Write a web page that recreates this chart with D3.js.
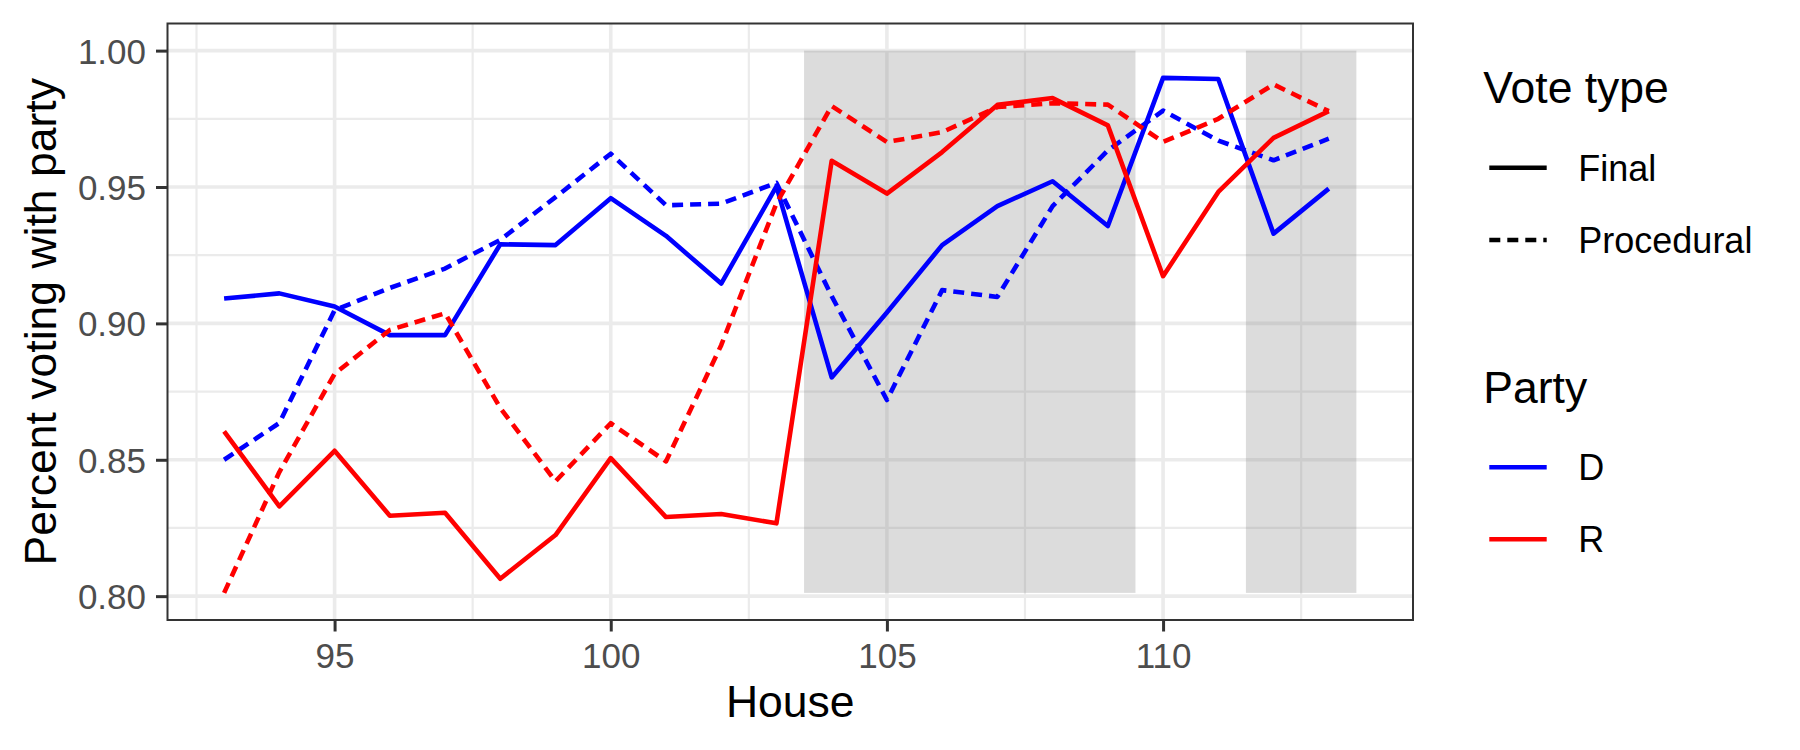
<!DOCTYPE html>
<html>
<head>
<meta charset="utf-8">
<script src="https://cdn.jsdelivr.net/npm/d3@7"></script>
<style>
  html, body { margin: 0; padding: 0; background: #fff; }
  svg { display: block; font-family: "Liberation Sans", Arial, sans-serif; }
</style>
</head>
<body>
<svg id="chart" width="1800" height="750"></svg>
<script>
// ---- data ----
const houses = [93, 94, 95, 96, 97, 98, 99, 100, 101, 102, 103, 104, 105, 106, 107, 108, 109, 110, 111, 112, 113];
const dFinal = [0.9091, 0.9110, 0.9062, 0.8957, 0.8957, 0.9290, 0.9287, 0.9459, 0.9321, 0.9146, 0.9502, 0.8802, 0.9040, 0.9287, 0.9430, 0.9521, 0.9357, 0.9900, 0.9896, 0.9329, 0.9494];
const dProcedural = [0.8500, 0.8635, 0.9048, 0.9130, 0.9201, 0.9306, 0.9463, 0.9622, 0.9433, 0.9439, 0.9515, 0.9100, 0.8719, 0.9122, 0.9097, 0.9430, 0.9634, 0.9780, 0.9670, 0.9598, 0.9677];
const rFinal = [0.8604, 0.8329, 0.8533, 0.8295, 0.8306, 0.8064, 0.8224, 0.8506, 0.8290, 0.8301, 0.8267, 0.9596, 0.9476, 0.9628, 0.9801, 0.9826, 0.9726, 0.9173, 0.9482, 0.9680, 0.9778];
const rProcedural = [0.8012, 0.8455, 0.8815, 0.8976, 0.9037, 0.8690, 0.8421, 0.8634, 0.8494, 0.8920, 0.9440, 0.9797, 0.9665, 0.9701, 0.9793, 0.9807, 0.9802, 0.9665, 0.9750, 0.9876, 0.9778];

const shadeStart = [103.5, 111.5];
const shadeEnd = [109.5, 113.5];
const shadeTop = 1.0;

const xTicks = [95, 100, 105, 110];
const xMinorTicks = [92.5, 97.5, 102.5, 107.5, 112.5];
const yTicks = [0.80, 0.85, 0.90, 0.95, 1.00];
const yMinorTicks = [0.825, 0.875, 0.925, 0.975];

const voteTypes = ["Final", "Procedural"];
const parties = ["D", "R"];
const partyColors = ["blue", "red"];

const seriesList = [
  { party: "D", type: "Final", values: dFinal },
  { party: "D", type: "Procedural", values: dProcedural },
  { party: "R", type: "Final", values: rFinal },
  { party: "R", type: "Procedural", values: rProcedural }
];

// ---- layout ----
const panel = { left: 167.5, right: 1413, top: 23.5, bottom: 620 };
const DASH = "11 7";
const LINE_W = 4.6;

const svg = d3.select("#chart");

const allVals = [].concat(dFinal, dProcedural, rFinal, rProcedural);
const yLo = d3.min(allVals), yHi = shadeTop;
const yPad = (yHi - yLo) * 0.05;
const xLo = d3.min(houses), xHi = d3.max(shadeEnd);
const xPad = (xHi - xLo) * 0.05;

const x = d3.scaleLinear().domain([xLo - xPad, xHi + xPad]).range([panel.left, panel.right]);
const y = d3.scaleLinear().domain([yLo - yPad, yHi + yPad]).range([panel.bottom, panel.top]);

const color = d3.scaleOrdinal().domain(parties).range(partyColors);
const dash = d3.scaleOrdinal().domain(voteTypes).range(["none", DASH]);

// panel background
svg.append("rect").attr("x", panel.left).attr("y", panel.top)
  .attr("width", panel.right - panel.left).attr("height", panel.bottom - panel.top)
  .attr("fill", "#fff");

const grid = svg.append("g");
// minor grid
grid.selectAll(".ymin").data(yMinorTicks).enter().append("line")
  .attr("x1", panel.left).attr("x2", panel.right)
  .attr("y1", d => y(d)).attr("y2", d => y(d))
  .attr("stroke", "#EBEBEB").attr("stroke-width", 2.2);
grid.selectAll(".xmin").data(xMinorTicks).enter().append("line")
  .attr("y1", panel.top).attr("y2", panel.bottom)
  .attr("x1", d => x(d)).attr("x2", d => x(d))
  .attr("stroke", "#EBEBEB").attr("stroke-width", 2.2);
// major grid
grid.selectAll(".ymaj").data(yTicks).enter().append("line")
  .attr("x1", panel.left).attr("x2", panel.right)
  .attr("y1", d => y(d)).attr("y2", d => y(d))
  .attr("stroke", "#EBEBEB").attr("stroke-width", 3.6);
grid.selectAll(".xmaj").data(xTicks).enter().append("line")
  .attr("y1", panel.top).attr("y2", panel.bottom)
  .attr("x1", d => x(d)).attr("x2", d => x(d))
  .attr("stroke", "#EBEBEB").attr("stroke-width", 3.6);

// shaded periods
svg.append("g").selectAll("rect").data(shadeStart.map((s, i) => [s, shadeEnd[i]])).enter()
  .append("rect")
  .attr("x", d => x(d[0])).attr("width", d => x(d[1]) - x(d[0]))
  .attr("y", y(shadeTop)).attr("height", y(yLo) - y(shadeTop))
  .attr("fill", "#7F7F7F").attr("fill-opacity", 0.27);

// lines
const line = d3.line().x((d, i) => x(houses[i])).y(d => y(d));
svg.append("g").selectAll("path").data(seriesList).enter().append("path")
  .attr("d", d => line(d.values))
  .attr("fill", "none")
  .attr("stroke", d => color(d.party))
  .attr("stroke-width", LINE_W)
  .attr("stroke-dasharray", d => dash(d.type))
  .attr("stroke-linejoin", "round");

// panel border
svg.append("rect").attr("x", panel.left).attr("y", panel.top)
  .attr("width", panel.right - panel.left).attr("height", panel.bottom - panel.top)
  .attr("fill", "none").attr("stroke", "#333333").attr("stroke-width", 2);

// axes
const yAxis = d3.axisLeft(y).tickValues(yTicks).tickFormat(d3.format(".2f")).tickSize(11.5).tickPadding(10);
const xAxis = d3.axisBottom(x).tickValues(xTicks).tickFormat(d3.format("d")).tickSize(11.5).tickPadding(10);

const gy = svg.append("g").attr("transform", `translate(${panel.left},0)`).call(yAxis);
const gx = svg.append("g").attr("transform", `translate(0,${panel.bottom})`).call(xAxis);
[gx, gy].forEach(g => {
  g.select(".domain").remove();
  g.selectAll(".tick line").attr("stroke", "#333333").attr("stroke-width", 3);
  g.selectAll(".tick text").attr("fill", "#4D4D4D")
    .style("font-size", "35px").style("font-family", "'Liberation Sans', Arial, sans-serif");
});
gy.selectAll(".tick text").attr("dy", "0.36em");
gx.selectAll(".tick text").attr("dy", "0.71em").attr("y", 23);

// axis titles
svg.append("text").attr("x", (panel.left + panel.right) / 2).attr("y", 716.5)
  .attr("text-anchor", "middle").attr("fill", "#000").style("font-size", "44.5px")
  .text("House");
svg.append("text")
  .attr("transform", `translate(55.5,${(panel.top + panel.bottom) / 2}) rotate(-90)`)
  .attr("text-anchor", "middle").attr("fill", "#000").style("font-size", "44.5px")
  .text("Percent voting with party");

// legends
const lg = svg.append("g");
const keyX1 = 1489.3, keyX2 = 1546.7, labelX = 1578.3;

lg.append("text").attr("x", 1483.3).attr("y", 103.3).style("font-size", "44.5px").attr("fill", "#000").text("Vote type");
const vtKeyY = [167.7, 240];
voteTypes.forEach((t, i) => {
  lg.append("line").attr("x1", keyX1).attr("x2", keyX2).attr("y1", vtKeyY[i]).attr("y2", vtKeyY[i])
    .attr("stroke", "#000").attr("stroke-width", LINE_W).attr("stroke-dasharray", dash(t));
  lg.append("text").attr("x", labelX).attr("y", vtKeyY[i] + 13).style("font-size", "36px").attr("fill", "#000").text(t);
});

lg.append("text").attr("x", 1483.3).attr("y", 403.3).style("font-size", "44.5px").attr("fill", "#000").text("Party");
const pKeyY = [467.3, 539.3];
parties.forEach((p, i) => {
  lg.append("line").attr("x1", keyX1).attr("x2", keyX2).attr("y1", pKeyY[i]).attr("y2", pKeyY[i])
    .attr("stroke", color(p)).attr("stroke-width", LINE_W);
  lg.append("text").attr("x", labelX).attr("y", pKeyY[i] + 13).style("font-size", "36px").attr("fill", "#000").text(p);
});
</script>
</body>
</html>
